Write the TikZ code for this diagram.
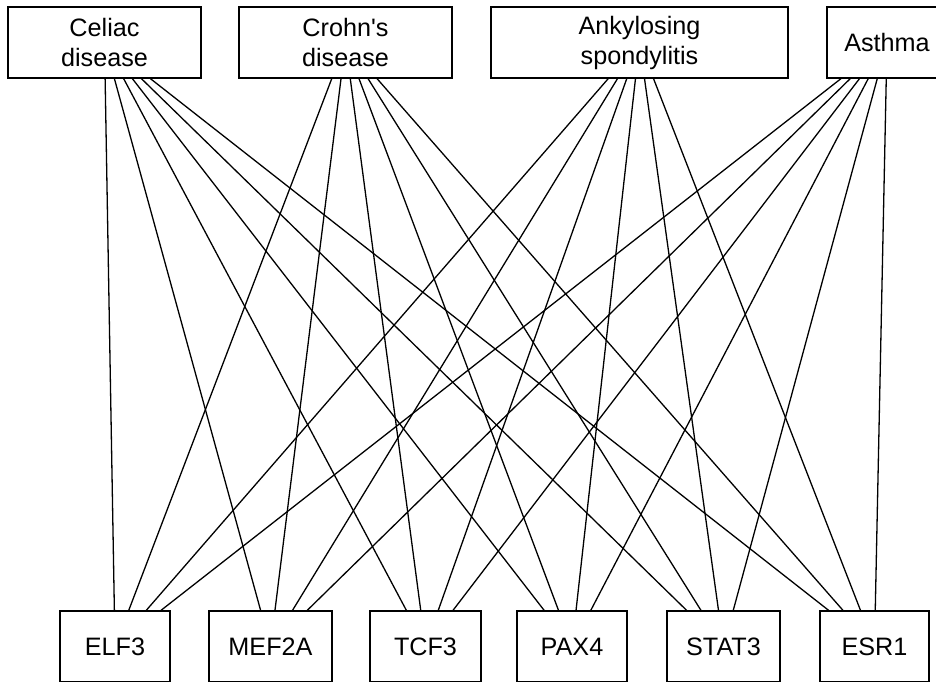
\documentclass[tikz,border=0pt]{standalone}
\usepackage{fontspec}
\newfontfamily\boxfont{Liberation Sans}

\tikzset{
  box/.style={draw, rectangle, line width=1.3pt, inner sep=0pt,
    minimum height=71pt, align=center, font=\boxfont\fontsize{25.2}{30}\selectfont},
  link/.style={line width=1.3pt}
}

\begin{document}
\begin{tikzpicture}[x=1pt, y=-1pt]
  % Keep the page at the size of the picture
  \clip (0,0) rectangle (936,681);

  % Diseases on top
  \node[box, minimum width=193pt] (celiac) at (104.5,42.5) {Celiac\\disease};
  \node[box, minimum width=213pt] (crohn) at (345.5,42.5) {Crohn's\\disease};
  \node[box, minimum width=297pt] (ankylosing) at (639.5,42.5) {Ankylosing\\spondylitis};
  \node[box, minimum width=120pt] (asthma) at (887,42.5) {Asthma};

  % Genes below
  \node[box, minimum width=110pt] (elf) at (115,646.5) {ELF3};
  \node[box, minimum width=123pt] (mef) at (270.5,646.5) {MEF2A};
  \node[box, minimum width=111pt] (tcf) at (425.5,646.5) {TCF3};
  \node[box, minimum width=110pt] (pax) at (572,646.5) {PAX4};
  \node[box, minimum width=113pt] (stat) at (723.5,646.5) {STAT3};
  \node[box, minimum width=109pt] (esr) at (874.5,646.5) {ESR1};

  % Every disease is linked to every gene
  \draw[link] (celiac) -- (elf) (celiac) -- (mef) (celiac) -- (tcf)
    (celiac) -- (pax) (celiac) -- (stat) (celiac) -- (esr);
  \draw[link] (crohn) -- (elf) (crohn) -- (mef) (crohn) -- (tcf)
    (crohn) -- (pax) (crohn) -- (stat) (crohn) -- (esr);
  \draw[link] (ankylosing) -- (elf) (ankylosing) -- (mef) (ankylosing) -- (tcf)
    (ankylosing) -- (pax) (ankylosing) -- (stat) (ankylosing) -- (esr);
  \draw[link] (asthma) -- (elf) (asthma) -- (mef) (asthma) -- (tcf)
    (asthma) -- (pax) (asthma) -- (stat) (asthma) -- (esr);
\end{tikzpicture}
\end{document}
